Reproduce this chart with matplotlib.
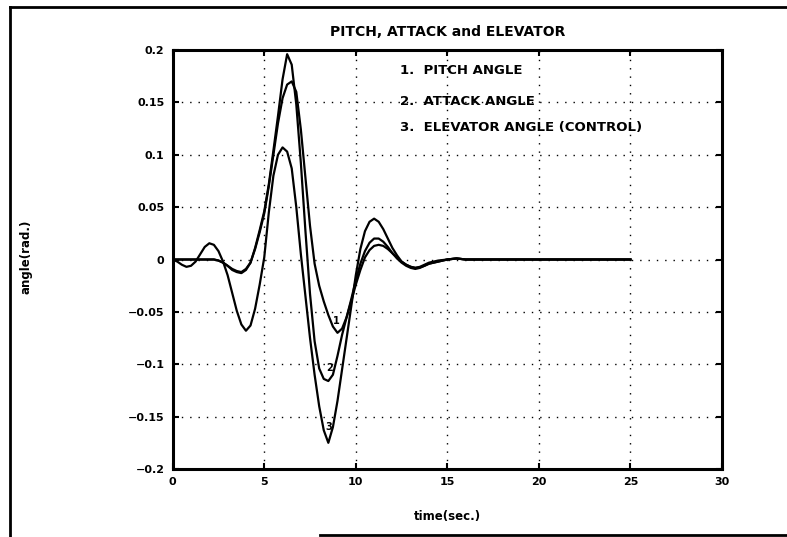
import matplotlib
matplotlib.use("Agg")
import matplotlib.pyplot as plt
from matplotlib.lines import Line2D

# ---------------- data ----------------
t = [0, 0.25, 0.5, 0.75, 1.0, 1.25, 1.5, 1.75, 2.0, 2.25, 2.5, 2.75, 3.0, 3.25, 3.5, 3.75,
     4.0, 4.25, 4.5, 4.75, 5.0, 5.25, 5.5, 5.75, 6.0, 6.25, 6.5, 6.75, 7.0, 7.25, 7.5, 7.75,
     8.0, 8.25, 8.5, 8.75, 9.0, 9.25, 9.5, 9.75, 10.0, 10.25, 10.5, 10.75, 11.0, 11.25, 11.5,
     11.75, 12.0, 12.25, 12.5, 12.75, 13.0, 13.25, 13.5, 13.75, 14.0, 14.5, 15.0, 15.5, 16.0,
     20.0, 25.0]

pitch = [0, 0, 0, 0, 0, 0, 0, 0, 0, 0, -0.001, -0.003, -0.006, -0.009, -0.011, -0.012,
         -0.009, -0.003, 0.010, 0.026, 0.044, 0.070, 0.100, 0.130, 0.154, 0.167, 0.170, 0.160,
         0.124, 0.078, 0.032, -0.004, -0.025, -0.040, -0.053, -0.064, -0.070, -0.066, -0.055,
         -0.040, -0.024, -0.010, 0.002, 0.009, 0.013, 0.014, 0.013, 0.010, 0.006, 0.002,
         -0.002, -0.005, -0.007, -0.008, -0.0075, -0.006, -0.004, -0.002, 0.0, 0.001, 0.0,
         0.0, 0.0]

attack = [0, 0, 0, 0, 0, 0, 0, 0, 0, 0, -0.001, -0.003, -0.006, -0.010, -0.012, -0.013,
          -0.010, -0.003, 0.011, 0.028, 0.046, 0.072, 0.104, 0.137, 0.172, 0.196, 0.186, 0.148,
          0.092, 0.027, -0.033, -0.078, -0.104, -0.114, -0.116, -0.110, -0.092, -0.072,
          -0.055, -0.038, -0.020, -0.004, 0.008, 0.016, 0.020, 0.020, 0.017, 0.012, 0.006,
          0.001, -0.003, -0.006, -0.008, -0.009, -0.008, -0.006, -0.004, -0.002, 0.0, 0.001,
          0.0, 0.0, 0.0]

elevator = [0, -0.002, -0.005, -0.007, -0.006, -0.002, 0.005, 0.012, 0.0155, 0.014, 0.008,
            -0.002, -0.015, -0.032, -0.049, -0.062, -0.068, -0.063, -0.047, -0.024, 0.002,
            0.045, 0.080, 0.100, 0.107, 0.103, 0.087, 0.050, 0.005, -0.035, -0.075, -0.110,
            -0.140, -0.163, -0.175, -0.160, -0.135, -0.105, -0.075, -0.045, -0.015, 0.010,
            0.027, 0.036, 0.039, 0.036, 0.029, 0.020, 0.011, 0.004, -0.002, -0.005, -0.007,
            -0.008, -0.007, -0.005, -0.003, -0.001, 0.0, 0.001, 0.0, 0.0, 0.0]

series = [pitch, attack, elevator]
curve_tags = ["1", "2", "3"]
tag_t = [8.95, 8.56, 8.5]
tag_y = [-0.059, -0.104, -0.160]
legend_lines = ["1.  PITCH ANGLE", "2.  ATTACK ANGLE", "3.  ELEVATOR ANGLE (CONTROL)"]
legend_y = [0.18, 0.151, 0.126]
legend_t = 12.4

xticks = [0, 5, 10, 15, 20, 25, 30]
yticks = [-0.2, -0.15, -0.1, -0.05, 0, 0.05, 0.1, 0.15, 0.2]
yticklabels = ["\u22120.2", "\u22120.15", "\u22120.1", "\u22120.05", "0", "0.05", "0.1", "0.15", "0.2"]
title = "PITCH, ATTACK and ELEVATOR"
xlabel = "time(sec.)"
ylabel = "angle(rad.)"

# ---------------- figure ----------------
plt.rcParams['font.family'] = ['DejaVu Sans']
plt.rcParams['font.weight'] = 'bold'
W, H = 787, 537
fig = plt.figure(figsize=(W / 100, H / 100), dpi=100)
ax = fig.add_axes([172.7 / W, 68 / H, (722 - 172.7) / W, (469 - 50) / H])

for s in series:
    ax.plot(t, s, color="black", lw=1.6, solid_joinstyle="round")

for tag, tx, ty in zip(curve_tags, tag_t, tag_y):
    ax.text(tx, ty, tag, fontsize=7, ha="center", va="center", color="black",
            fontweight="bold")

for txt, ly in zip(legend_lines, legend_y):
    ax.text(legend_t, ly, txt, fontsize=9.5, ha="left", va="center", color="black",
            fontweight="bold")

ax.set_xlim(0, 30)
ax.set_ylim(-0.2, 0.2)
ax.set_xticks(xticks)
ax.set_yticks(yticks)
ax.set_yticklabels(yticklabels)
ax.grid(True, color="black", linestyle=(0, (1, 5)), linewidth=1.0)
ax.tick_params(direction="in", length=4, width=1.5, top=True, right=True,
               labelsize=8, pad=6)
for lab in ax.get_xticklabels() + ax.get_yticklabels():
    lab.set_fontweight("bold")
for sp in ax.spines.values():
    sp.set_linewidth(2.2)

ax.set_title(title, fontsize=10, pad=10, fontweight="bold")
ax.set_xlabel(xlabel, fontsize=8.5, fontweight="bold")
ax.set_ylabel(ylabel, fontsize=8.5, fontweight="bold")
ax.xaxis.set_label_coords(0.5, (469 - 510) / 419)
ax.yaxis.set_label_coords((33 - 172.7) / 549.3, 0.506)

# outer border of the scanned page
fig.add_artist(Line2D([10 / W, 10 / W], [0, 1 - 7 / H], color="black", lw=2.0))
fig.add_artist(Line2D([10 / W, 1], [1 - 7 / H, 1 - 7 / H], color="black", lw=2.0))
fig.add_artist(Line2D([320 / W, 1], [2 / H, 2 / H], color="black", lw=2.0))

fig.savefig("out.png", dpi=100)
